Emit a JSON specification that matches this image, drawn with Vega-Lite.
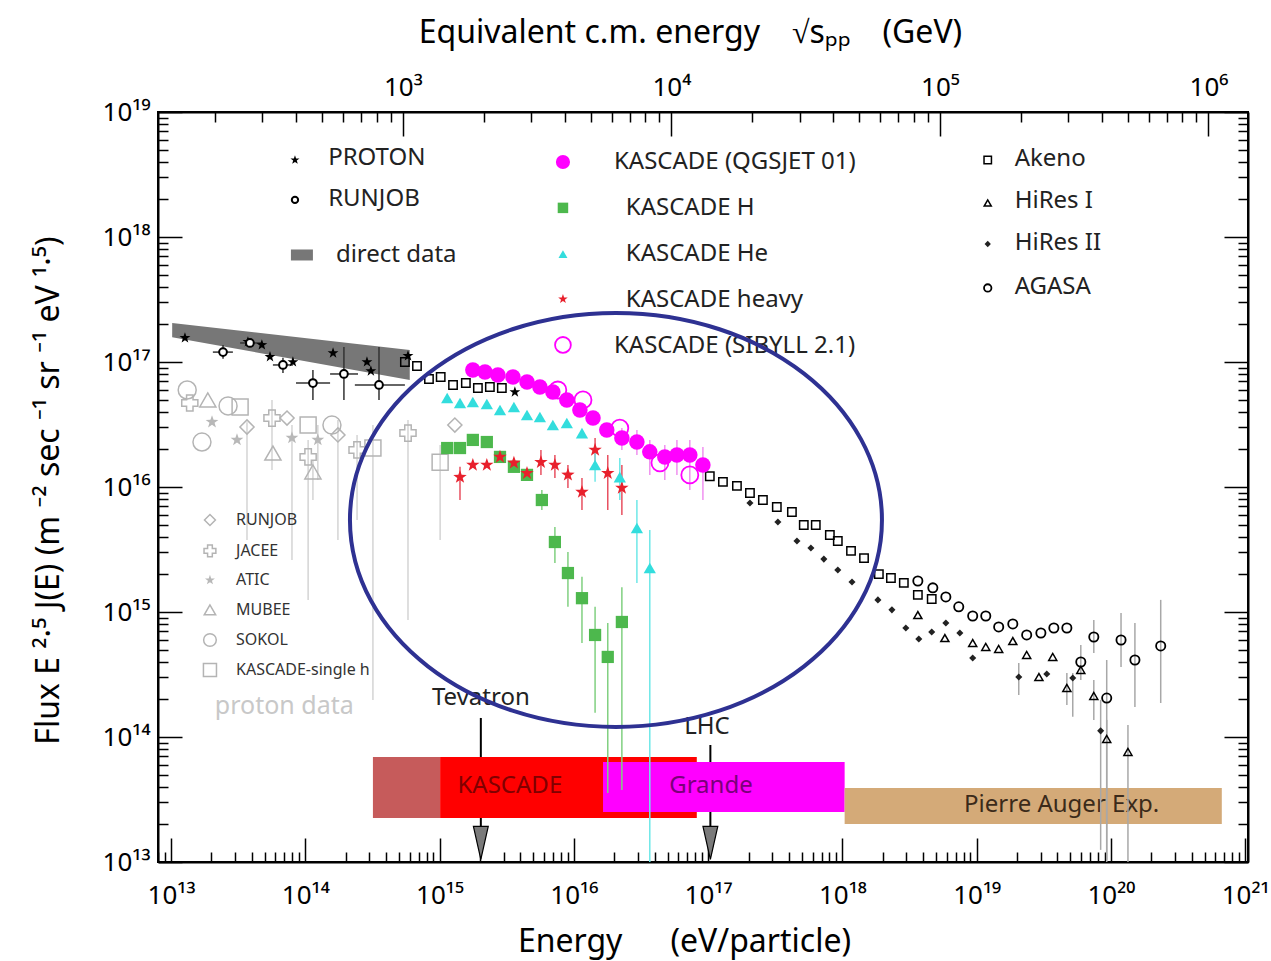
{
  "$schema": "https://vega.github.io/schema/vega-lite/v6.json",
  "width": 1090,
  "height": 750,
  "autosize": "none",
  "padding": {"left": 158, "top": 112, "right": 23, "bottom": 99},
  "background": "white",
  "config": {
    "font": "Noto Sans",
    "view": {"stroke": "black", "strokeWidth": 2},
    "axis": {"grid": false, "labelColor": "black", "titleColor": "black", "tickColor": "black", "domainColor": "black", "titleFontWeight": "normal", "domainWidth": 2, "tickWidth": 1.5}
  },
  "datasets": {
    "arrows": [
      {"name": "Tevatron", "E": 2.03e15, "Et": 2.03e15, "Ft": 2.05e14, "F1": 1.42e14, "F2": 1.87e13, "Fh": 1.42e13},
      {"name": "LHC", "E": 1.04e17, "Et": 9.8e16, "Ft": 1.2e14, "F1": 8.63e13, "F2": 1.87e13, "Fh": 1.42e13}
    ],
    "bands": [
      {"name": "pre", "E1": 3.19e14, "E2": 1.01e15, "F1": 2.25e13, "F2": 6.92e13},
      {"name": "KASCADE", "E1": 1.01e15, "E2": 8.24e16, "F1": 2.25e13, "F2": 6.92e13},
      {"name": "Grande", "E1": 1.65e16, "E2": 1.04e18, "F1": 2.51e13, "F2": 6.31e13},
      {"name": "Auger", "E1": 1.04e18, "E2": 6.7e20, "F1": 2.01e13, "F2": 3.91e13}
    ],
    "bandtext": [
      {"label": "KASCADE", "E": 3.34e15, "F": 4.06e13},
      {"label": "Grande", "E": 1.05e17, "F": 4.06e13},
      {"label": "Pierre Auger Exp.", "E": 4.3e19, "F": 2.86e13}
    ],
    "direct": [
      {"E": 1.02e13, "Flo": 1.58e17, "Fhi": 2.05e17},
      {"E": 6.0e14, "Flo": 7.18e16, "Fhi": 1.25e17}
    ],
    "focus": [{"E": 2.06e16, "F": 5.45e15}],
    "legtext": [
      {"label": "PROTON", "E": 1.48e14, "F": 4.29e18, "g": "big"},
      {"label": "RUNJOB", "E": 1.48e14, "F": 2.01e18, "g": "big"},
      {"label": "direct data", "E": 1.69e14, "F": 7.18e17, "g": "big"},
      {"label": "KASCADE (QGSJET 01)", "E": 1.99e16, "F": 3.98e18, "g": "big"},
      {"label": "KASCADE H", "E": 2.44e16, "F": 1.71e18, "g": "big"},
      {"label": "KASCADE He", "E": 2.44e16, "F": 7.31e17, "g": "big"},
      {"label": "KASCADE heavy", "E": 2.44e16, "F": 3.13e17, "g": "big"},
      {"label": "KASCADE (SIBYLL 2.1)", "E": 1.99e16, "F": 1.34e17, "g": "big"},
      {"label": "Akeno", "E": 1.92e19, "F": 4.21e18, "g": "big"},
      {"label": "HiRes I", "E": 1.92e19, "F": 1.94e18, "g": "big"},
      {"label": "HiRes II", "E": 1.92e19, "F": 8.95e17, "g": "big"},
      {"label": "AGASA", "E": 1.92e19, "F": 3.98e17, "g": "big"},
      {"label": "RUNJOB", "E": 3.05e13, "F": 5.45e15, "g": "small"},
      {"label": "JACEE", "E": 3.05e13, "F": 3.08e15, "g": "small"},
      {"label": "ATIC", "E": 3.05e13, "F": 1.8e15, "g": "small"},
      {"label": "MUBEE", "E": 3.05e13, "F": 1.04e15, "g": "small"},
      {"label": "SOKOL", "E": 3.05e13, "F": 5.97e14, "g": "small"},
      {"label": "KASCADE-single h", "E": 3.05e13, "F": 3.44e14, "g": "small"},
      {"label": "proton data", "E": 2.12e13, "F": 1.77e14, "g": "note"}
    ],
    "pts": [
      {"s": "sokol", "E": 1.32e13, "F": 5.97e16},
      {"s": "sokol", "E": 1.70e13, "F": 2.29e16},
      {"s": "sokol", "E": 2.66e13, "F": 4.45e16},
      {"s": "sokol", "E": 1.58e14, "F": 3.13e16},
      {"s": "mubee", "E": 1.88e13, "F": 4.97e16},
      {"s": "mubee", "E": 5.74e13, "F": 1.87e16},
      {"s": "mubee", "E": 1.14e14, "F": 1.32e16, "lo": 7.87e15, "hi": 1.64e16},
      {"s": "jacee", "E": 1.38e13, "F": 4.70e16},
      {"s": "jacee", "E": 5.65e13, "F": 3.56e16, "lo": 1.37e16, "hi": 4.97e16},
      {"s": "jacee", "E": 1.05e14, "F": 1.74e16, "lo": 1.25e15, "hi": 2.38e16},
      {"s": "jacee", "E": 2.43e14, "F": 1.98e16, "lo": 5.45e15, "hi": 2.61e16},
      {"s": "jacee", "E": 5.82e14, "F": 2.70e16, "lo": 8.63e14, "hi": 3.44e16},
      {"s": "atic", "E": 2.02e13, "F": 3.31e16},
      {"s": "atic", "E": 3.10e13, "F": 2.38e16},
      {"s": "atic", "E": 7.96e13, "F": 2.47e16, "lo": 2.61e15, "hi": 3.13e16},
      {"s": "atic", "E": 1.24e14, "F": 2.38e16, "lo": 1.14e16, "hi": 3.13e16},
      {"s": "runjobG", "E": 3.68e13, "F": 3.02e16, "lo": 3.77e15, "hi": 3.3e16},
      {"s": "runjobG", "E": 7.31e13, "F": 3.56e16},
      {"s": "runjobG", "E": 1.75e14, "F": 2.61e16, "lo": 3.77e15, "hi": 3.44e16},
      {"s": "runjobG", "E": 1.30e15, "F": 3.13e16},
      {"s": "ksingle", "E": 3.27e13, "F": 4.37e16},
      {"s": "ksingle", "E": 1.05e14, "F": 3.13e16},
      {"s": "ksingle", "E": 3.19e14, "F": 2.05e16, "lo": 1.98e14, "hi": 3.13e16},
      {"s": "ksingle", "E": 1.01e15, "F": 1.58e16, "lo": 3.77e15, "hi": 2.17e16},
      {"s": "runjobG", "E": 1.95e13, "F": 5.45e15, "leg": true},
      {"s": "jacee", "E": 1.95e13, "F": 3.08e15, "leg": true},
      {"s": "atic", "E": 1.95e13, "F": 1.8e15, "leg": true},
      {"s": "mubee", "E": 1.95e13, "F": 1.04e15, "leg": true},
      {"s": "sokol", "E": 1.95e13, "F": 5.97e14, "leg": true},
      {"s": "ksingle", "E": 1.95e13, "F": 3.44e14, "leg": true},

      {"s": "proton", "E": 1.27e13, "F": 1.56e17},
      {"s": "proton", "E": 3.74e13, "F": 1.45e17},
      {"s": "proton", "E": 4.75e13, "F": 1.37e17},
      {"s": "proton", "E": 5.46e13, "F": 1.10e17},
      {"s": "proton", "E": 8.09e13, "F": 1.0e17},
      {"s": "proton", "E": 1.61e14, "F": 1.18e17},
      {"s": "proton", "E": 2.88e14, "F": 1.0e17},
      {"s": "proton", "E": 3.08e14, "F": 8.47e16},
      {"s": "proton", "E": 5.82e14, "F": 1.12e17},
      {"s": "proton", "E": 3.64e15, "F": 5.75e16},
      {"s": "proton", "E": 8.38e13, "F": 4.13e18, "leg": true},
      {"s": "runjob", "E": 2.44e13, "F": 1.20e17, "lo": 1.06e17, "hi": 1.37e17, "Elo": 2.05e13, "Ehi": 2.89e13},
      {"s": "runjob", "E": 3.87e13, "F": 1.42e17, "Elo": 3.27e13, "Ehi": 4.75e13},
      {"s": "runjob", "E": 6.82e13, "F": 9.47e16, "lo": 8.17e16, "hi": 1.08e17, "Elo": 5.74e13, "Ehi": 8.09e13},
      {"s": "runjob", "E": 1.14e14, "F": 6.79e16, "lo": 4.97e16, "hi": 8.63e16, "Elo": 8.53e13, "Ehi": 1.53e14},
      {"s": "runjob", "E": 1.94e14, "F": 8.02e16, "lo": 4.97e16, "hi": 1.32e17, "Elo": 1.53e14, "Ehi": 2.47e14},
      {"s": "runjob", "E": 3.54e14, "F": 6.55e16, "lo": 4.97e16, "hi": 1.32e17, "Elo": 2.34e14, "Ehi": 5.52e14},
      {"s": "runjob", "E": 8.38e13, "F": 1.98e18, "leg": true},

      {"s": "akeno", "E": 5.52e14, "F": 1.0e17},
      {"s": "akeno", "E": 6.79e14, "F": 9.29e16},
      {"s": "akeno", "E": 8.34e14, "F": 7.31e16},
      {"s": "akeno", "E": 1.02e15, "F": 7.59e16},
      {"s": "akeno", "E": 1.26e15, "F": 6.55e16},
      {"s": "akeno", "E": 1.57e15, "F": 6.79e16},
      {"s": "akeno", "E": 1.93e15, "F": 6.19e16},
      {"s": "akeno", "E": 2.37e15, "F": 6.31e16},
      {"s": "akeno", "E": 2.91e15, "F": 6.19e16},
      {"s": "akeno", "E": 1.03e17, "F": 1.22e16},
      {"s": "akeno", "E": 1.29e17, "F": 1.10e16},
      {"s": "akeno", "E": 1.64e17, "F": 1.02e16},
      {"s": "akeno", "E": 2.05e17, "F": 8.95e15},
      {"s": "akeno", "E": 2.56e17, "F": 7.87e15},
      {"s": "akeno", "E": 3.25e17, "F": 6.92e15},
      {"s": "akeno", "E": 4.21e17, "F": 6.31e15},
      {"s": "akeno", "E": 5.16e17, "F": 4.97e15},
      {"s": "akeno", "E": 6.34e17, "F": 4.97e15},
      {"s": "akeno", "E": 8.07e17, "F": 4.13e15},
      {"s": "akeno", "E": 9.25e17, "F": 3.70e15},
      {"s": "akeno", "E": 1.16e18, "F": 3.08e15},
      {"s": "akeno", "E": 1.45e18, "F": 2.70e15},
      {"s": "akeno", "E": 1.87e18, "F": 2.01e15},
      {"s": "akeno", "E": 2.30e18, "F": 1.87e15},
      {"s": "akeno", "E": 2.87e18, "F": 1.71e15},
      {"s": "akeno", "E": 3.65e18, "F": 1.37e15},
      {"s": "akeno", "E": 4.63e18, "F": 1.27e15},
      {"s": "akeno", "E": 1.21e19, "F": 4.13e18, "leg": true},

      {"s": "hires1", "E": 3.65e18, "F": 9.46e14},
      {"s": "hires1", "E": 5.80e18, "F": 6.19e14},
      {"s": "hires1", "E": 9.35e18, "F": 5.65e14},
      {"s": "hires1", "E": 1.17e19, "F": 5.25e14},
      {"s": "hires1", "E": 1.46e19, "F": 5.06e14},
      {"s": "hires1", "E": 1.86e19, "F": 5.86e14},
      {"s": "hires1", "E": 2.36e19, "F": 4.53e14},
      {"s": "hires1", "E": 2.91e19, "F": 3.02e14},
      {"s": "hires1", "E": 3.69e19, "F": 4.37e14},
      {"s": "hires1", "E": 4.70e19, "F": 2.47e14, "lo": 1.80e14, "hi": 3.25e14},
      {"s": "hires1", "E": 5.97e19, "F": 3.44e14},
      {"s": "hires1", "E": 7.46e19, "F": 2.13e14, "lo": 1.37e14, "hi": 2.86e14},
      {"s": "hires1", "E": 9.31e19, "F": 9.64e13, "lo": 1.0e13, "hi": 1.37e14},
      {"s": "hires1", "E": 1.34e20, "F": 7.59e13, "lo": 1.0e13, "hi": 1.25e14},
      {"s": "hires1", "E": 1.21e19, "F": 1.87e18, "leg": true},

      {"s": "hires2", "E": 2.05e17, "F": 7.45e15},
      {"s": "hires2", "E": 3.31e17, "F": 5.25e15},
      {"s": "hires2", "E": 4.59e17, "F": 3.70e15},
      {"s": "hires2", "E": 5.83e17, "F": 3.25e15},
      {"s": "hires2", "E": 7.28e17, "F": 2.65e15},
      {"s": "hires2", "E": 9.25e17, "F": 2.17e15},
      {"s": "hires2", "E": 1.18e18, "F": 1.74e15},
      {"s": "hires2", "E": 1.84e18, "F": 1.25e15},
      {"s": "hires2", "E": 2.34e18, "F": 1.04e15},
      {"s": "hires2", "E": 2.97e18, "F": 7.45e14},
      {"s": "hires2", "E": 3.71e18, "F": 6.08e14},
      {"s": "hires2", "E": 4.63e18, "F": 6.92e14},
      {"s": "hires2", "E": 5.90e18, "F": 8.17e14},
      {"s": "hires2", "E": 7.50e18, "F": 6.79e14},
      {"s": "hires2", "E": 9.35e18, "F": 4.29e14},
      {"s": "hires2", "E": 2.06e19, "F": 3.02e14, "lo": 2.17e14, "hi": 3.91e14},
      {"s": "hires2", "E": 3.33e19, "F": 3.19e14},
      {"s": "hires2", "E": 5.20e19, "F": 2.96e14, "lo": 1.45e14, "hi": 3.25e14},
      {"s": "hires2", "E": 8.39e19, "F": 1.12e14, "lo": 1.25e13, "hi": 1.98e14},
      {"s": "hires2", "E": 1.21e19, "F": 8.79e17, "leg": true},

      {"s": "agasa", "E": 3.65e18, "F": 1.77e15},
      {"s": "agasa", "E": 4.72e18, "F": 1.56e15},
      {"s": "agasa", "E": 5.90e18, "F": 1.32e15},
      {"s": "agasa", "E": 7.36e18, "F": 1.10e15},
      {"s": "agasa", "E": 9.35e18, "F": 9.29e14},
      {"s": "agasa", "E": 1.17e19, "F": 9.29e14},
      {"s": "agasa", "E": 1.46e19, "F": 7.59e14},
      {"s": "agasa", "E": 1.86e19, "F": 8.02e14},
      {"s": "agasa", "E": 2.36e19, "F": 6.55e14},
      {"s": "agasa", "E": 3.01e19, "F": 6.79e14},
      {"s": "agasa", "E": 3.76e19, "F": 7.45e14},
      {"s": "agasa", "E": 4.70e19, "F": 7.45e14},
      {"s": "agasa", "E": 5.97e19, "F": 3.98e14, "lo": 2.86e14, "hi": 5.45e14},
      {"s": "agasa", "E": 7.46e19, "F": 6.31e14, "lo": 4.70e14, "hi": 8.63e14},
      {"s": "agasa", "E": 9.31e19, "F": 2.05e14, "lo": 1.04e13, "hi": 4.13e14},
      {"s": "agasa", "E": 1.19e20, "F": 5.97e14, "lo": 3.63e14, "hi": 9.82e14},
      {"s": "agasa", "E": 1.51e20, "F": 4.13e14, "lo": 1.74e14, "hi": 8.17e14},
      {"s": "agasa", "E": 2.35e20, "F": 5.35e14, "lo": 1.87e14, "hi": 1.25e15},
      {"s": "agasa", "E": 1.21e19, "F": 3.91e17, "leg": true},

      {"s": "H", "E": 1.14e15, "F": 2.05e16},
      {"s": "H", "E": 1.42e15, "F": 2.05e16},
      {"s": "H", "E": 1.77e15, "F": 2.38e16},
      {"s": "H", "E": 2.25e15, "F": 2.29e16},
      {"s": "H", "E": 2.82e15, "F": 1.74e16},
      {"s": "H", "E": 3.58e15, "F": 1.45e16},
      {"s": "H", "E": 4.48e15, "F": 1.25e16},
      {"s": "H", "E": 5.78e15, "F": 7.87e15, "lo": 6.55e15, "hi": 9.46e15},
      {"s": "H", "E": 7.23e15, "F": 3.63e15, "lo": 2.47e15, "hi": 4.79e15},
      {"s": "H", "E": 9.04e15, "F": 2.05e15, "lo": 1.10e15, "hi": 3.02e15},
      {"s": "H", "E": 1.15e16, "F": 1.29e15, "lo": 5.65e14, "hi": 1.91e15},
      {"s": "H", "E": 1.44e16, "F": 6.55e14, "lo": 1.56e14, "hi": 1.10e15},
      {"s": "H", "E": 1.79e16, "F": 4.37e14, "lo": 3.56e13, "hi": 8.17e14},
      {"s": "H", "E": 2.28e16, "F": 8.32e14, "lo": 3.77e13, "hi": 1.58e15},
      {"s": "H", "E": 8.30e15, "F": 1.71e18, "leg": true},

      {"s": "heavy", "E": 1.42e15, "F": 1.20e16, "lo": 7.87e15, "hi": 1.45e16},
      {"s": "heavy", "E": 1.77e15, "F": 1.50e16},
      {"s": "heavy", "E": 2.25e15, "F": 1.50e16},
      {"s": "heavy", "E": 2.82e15, "F": 1.74e16},
      {"s": "heavy", "E": 3.58e15, "F": 1.56e16},
      {"s": "heavy", "E": 4.48e15, "F": 1.29e16},
      {"s": "heavy", "E": 5.69e15, "F": 1.58e16, "lo": 1.25e16, "hi": 1.98e16},
      {"s": "heavy", "E": 7.23e15, "F": 1.50e16, "lo": 1.18e16, "hi": 1.80e16},
      {"s": "heavy", "E": 9.04e15, "F": 1.25e16, "lo": 9.82e15, "hi": 1.50e16},
      {"s": "heavy", "E": 1.15e16, "F": 9.12e15, "lo": 6.55e15, "hi": 1.18e16},
      {"s": "heavy", "E": 1.44e16, "F": 1.98e16, "lo": 1.37e16, "hi": 2.47e16},
      {"s": "heavy", "E": 1.79e16, "F": 1.29e16, "lo": 6.55e15, "hi": 1.80e16},
      {"s": "heavy", "E": 2.28e16, "F": 9.82e15, "lo": 5.97e15, "hi": 1.50e16},
      {"s": "heavy", "E": 8.30e15, "F": 3.19e17, "leg": true},

      {"s": "He", "E": 1.14e15, "F": 5.15e16},
      {"s": "He", "E": 1.42e15, "F": 4.70e16},
      {"s": "He", "E": 1.77e15, "F": 4.79e16},
      {"s": "He", "E": 2.25e15, "F": 4.61e16},
      {"s": "He", "E": 2.82e15, "F": 4.13e16},
      {"s": "He", "E": 3.58e15, "F": 4.37e16},
      {"s": "He", "E": 4.48e15, "F": 3.77e16},
      {"s": "He", "E": 5.59e15, "F": 3.63e16},
      {"s": "He", "E": 6.98e15, "F": 3.13e16},
      {"s": "He", "E": 8.87e15, "F": 3.25e16},
      {"s": "He", "E": 1.15e16, "F": 2.70e16},
      {"s": "He", "E": 1.44e16, "F": 1.50e16, "lo": 1.10e16, "hi": 1.98e16},
      {"s": "He", "E": 2.20e16, "F": 1.20e16, "lo": 7.87e15, "hi": 1.71e16},
      {"s": "He", "E": 2.95e16, "F": 4.70e15, "lo": 1.71e15, "hi": 7.87e15},
      {"s": "He", "E": 3.68e16, "F": 2.25e15, "lo": 1.0e13, "hi": 4.53e15},
      {"s": "He", "E": 8.30e15, "F": 7.31e17, "leg": true},

      {"s": "qgsjet", "E": 1.77e15, "F": 8.63e16},
      {"s": "qgsjet", "E": 2.18e15, "F": 8.32e16},
      {"s": "qgsjet", "E": 2.72e15, "F": 7.87e16},
      {"s": "qgsjet", "E": 3.52e15, "F": 7.59e16},
      {"s": "qgsjet", "E": 4.48e15, "F": 6.92e16},
      {"s": "qgsjet", "E": 5.59e15, "F": 6.31e16},
      {"s": "qgsjet", "E": 6.98e15, "F": 5.75e16},
      {"s": "qgsjet", "E": 8.87e15, "F": 4.97e16},
      {"s": "qgsjet", "E": 1.11e16, "F": 4.13e16},
      {"s": "qgsjet", "E": 1.39e16, "F": 3.56e16},
      {"s": "qgsjet", "E": 1.76e16, "F": 2.86e16},
      {"s": "qgsjet", "E": 2.28e16, "F": 2.47e16, "lo": 1.98e16, "hi": 2.96e16},
      {"s": "qgsjet", "E": 2.95e16, "F": 2.29e16, "lo": 1.80e16, "hi": 2.86e16},
      {"s": "qgsjet", "E": 3.68e16, "F": 1.91e16, "lo": 1.25e16, "hi": 2.38e16},
      {"s": "qgsjet", "E": 4.76e16, "F": 1.74e16, "lo": 1.14e16, "hi": 2.17e16},
      {"s": "qgsjet", "E": 5.86e16, "F": 1.80e16, "lo": 1.25e16, "hi": 2.38e16},
      {"s": "qgsjet", "E": 7.31e16, "F": 1.80e16, "lo": 9.46e15, "hi": 2.38e16},
      {"s": "qgsjet", "E": 9.15e16, "F": 1.50e16, "lo": 7.87e15, "hi": 2.09e16},
      {"s": "qgsjet", "E": 8.30e15, "F": 3.98e18, "leg": true},

      {"s": "sibyll", "E": 7.60e15, "F": 5.97e16},
      {"s": "sibyll", "E": 1.17e16, "F": 4.97e16},
      {"s": "sibyll", "E": 2.20e16, "F": 2.96e16},
      {"s": "sibyll", "E": 4.38e16, "F": 1.56e16},
      {"s": "sibyll", "E": 7.31e16, "F": 1.25e16},
      {"s": "sibyll", "E": 8.30e15, "F": 1.37e17, "leg": true},

      {"s": "direct", "E": 9.44e13, "F": 7.18e17, "leg": true}
    ]
  },
  "layer": [
    {
      "layer": [
        {
          "data": {"name": "arrows"},
          "mark": {"type": "rule", "color": "black", "strokeWidth": 2},
          "encoding": {
            "x": {
              "field": "E", "type": "quantitative",
              "scale": {"type": "log", "domain": [8e12, 1.05e21], "nice": false},
              "axis": {
                "orient": "bottom",
                "values": [8e12, 9e12, 1e13, 2e13, 3e13, 4e13, 5e13, 6e13, 7e13, 8e13, 9e13, 1e14, 2e14, 3e14, 4e14, 5e14, 6e14, 7e14, 8e14, 9e14, 1e15, 2e15, 3e15, 4e15, 5e15, 6e15, 7e15, 8e15, 9e15, 1e16, 2e16, 3e16, 4e16, 5e16, 6e16, 7e16, 8e16, 9e16, 1e17, 2e17, 3e17, 4e17, 5e17, 6e17, 7e17, 8e17, 9e17, 1e18, 2e18, 3e18, 4e18, 5e18, 6e18, 7e18, 8e18, 9e18, 1e19, 2e19, 3e19, 4e19, 5e19, 6e19, 7e19, 8e19, 9e19, 1e20, 2e20, 3e20, 4e20, 5e20, 6e20, 7e20, 8e20, 9e20, 1e21],
                "labelExpr": "abs(log(datum.value)/LN10 - round(log(datum.value)/LN10)) < 0.001 ? '10' + (round(log(datum.value)/LN10) >= 10 ? ['⁰','¹','²','³','⁴','⁵','⁶','⁷','⁸','⁹'][floor(round(log(datum.value)/LN10)/10)] : '') + ['⁰','¹','²','³','⁴','⁵','⁶','⁷','⁸','⁹'][round(log(datum.value)/LN10) % 10] : ''",
                "labelFontSize": 26,
                "labelPadding": 44,
                "labelFlush": false,
                "labelOverlap": false,
                "tickSize": {"condition": {"test": "abs(log(datum.value)/LN10 - round(log(datum.value)/LN10)) < 0.001", "value": -24}, "value": -10},
                "title": "Energy\u2003\u2002(eV/particle)",
                "titleFontSize": 32,
                "titleX": 526,
                "titleY": 89,
                "titleAlign": "center",
                "titleBaseline": "alphabetic"
              }
            },
            "y": {
              "field": "F1", "type": "quantitative",
              "scale": {"type": "log", "domain": [1e13, 1e19], "nice": false},
              "axis": {
                "orient": "left",
                "values": [1e13, 2e13, 3e13, 4e13, 5e13, 6e13, 7e13, 8e13, 9e13, 1e14, 2e14, 3e14, 4e14, 5e14, 6e14, 7e14, 8e14, 9e14, 1e15, 2e15, 3e15, 4e15, 5e15, 6e15, 7e15, 8e15, 9e15, 1e16, 2e16, 3e16, 4e16, 5e16, 6e16, 7e16, 8e16, 9e16, 1e17, 2e17, 3e17, 4e17, 5e17, 6e17, 7e17, 8e17, 9e17, 1e18, 2e18, 3e18, 4e18, 5e18, 6e18, 7e18, 8e18, 9e18, 1e19],
                "labelExpr": "abs(log(datum.value)/LN10 - round(log(datum.value)/LN10)) < 0.001 ? '10' + (round(log(datum.value)/LN10) >= 10 ? ['⁰','¹','²','³','⁴','⁵','⁶','⁷','⁸','⁹'][floor(round(log(datum.value)/LN10)/10)] : '') + ['⁰','¹','²','³','⁴','⁵','⁶','⁷','⁸','⁹'][round(log(datum.value)/LN10) % 10] : ''",
                "labelFontSize": 26,
                "labelPadding": 32,
                "labelFlush": false,
                "labelOverlap": false,
                "tickSize": {"condition": {"test": "abs(log(datum.value)/LN10 - round(log(datum.value)/LN10)) < 0.001", "value": -24}, "value": -10},
                "title": "Flux E ²·⁵ J(E) (m ⁻² sec ⁻¹ sr ⁻¹ eV ¹·⁵)",
                "titleFontSize": 32,
                "titleAngle": 270,
                "titleX": -100,
                "titleY": 378,
                "titleAlign": "center",
                "titleBaseline": "alphabetic"
              }
            },
            "y2": {"field": "F2"}
          }
        },
        {
          "data": {"name": "arrows"},
          "mark": {"type": "point", "shape": "M-0.45,-1L0.45,-1L0,1Z", "size": 1089, "filled": true, "fill": "#7a7a7a", "stroke": "black", "strokeWidth": 1.2, "opacity": 1},
          "encoding": {"x": {"field": "E", "type": "quantitative"}, "y": {"field": "Fh", "type": "quantitative"}}
        },
        {
          "data": {"name": "bands"},
          "mark": {"type": "rect", "opacity": 1},
          "encoding": {
            "x": {"field": "E1", "type": "quantitative"},
            "x2": {"field": "E2"},
            "y": {"field": "F1", "type": "quantitative"},
            "y2": {"field": "F2"},
            "color": {"condition": [
              {"test": "datum.name === 'pre'", "value": "#c65b5b"},
              {"test": "datum.name === 'KASCADE'", "value": "#ff0000"},
              {"test": "datum.name === 'Grande'", "value": "#ff00ff"}
            ], "value": "#d4aa78"}
          }
        },
        {
          "data": {"name": "bandtext"},
          "mark": {"type": "text", "fontSize": 24, "align": "center", "baseline": "middle"},
          "encoding": {
            "x": {"field": "E", "type": "quantitative"},
            "y": {"field": "F", "type": "quantitative"},
            "text": {"field": "label"},
            "color": {"condition": [
              {"test": "datum.label === 'KASCADE'", "value": "#800000"},
              {"test": "datum.label === 'Grande'", "value": "#7a007a"}
            ], "value": "#3b2a1a"}
          }
        },
        {
          "data": {"name": "arrows"},
          "mark": {"type": "text", "fontSize": 24, "align": "center", "baseline": "middle", "color": "#222222"},
          "encoding": {
            "x": {"field": "Et", "type": "quantitative"},
            "y": {"field": "Ft", "type": "quantitative"},
            "text": {"field": "name"}
          }
        },
        {
          "data": {"name": "direct"},
          "mark": {"type": "area", "color": "#777777", "opacity": 1},
          "encoding": {
            "x": {"field": "E", "type": "quantitative"},
            "y": {"field": "Flo", "type": "quantitative"},
            "y2": {"field": "Fhi"}
          }
        },
        {
          "data": {"name": "pts"},
          "transform": [{"filter": "isValid(datum.lo)"}],
          "mark": {"type": "rule", "strokeWidth": 1.5},
          "encoding": {
            "x": {"field": "E", "type": "quantitative"},
            "y": {"field": "lo", "type": "quantitative"},
            "y2": {"field": "hi"},
            "color": {"condition": [
              {"test": "datum.s === 'H'", "value": "#80d080"},
              {"test": "datum.s === 'He'", "value": "#6ee8e8"},
              {"test": "datum.s === 'heavy'", "value": "#e85060"},
              {"test": "datum.s === 'qgsjet'", "value": "#f090f0"},
              {"test": "datum.s === 'runjob'", "value": "#333333"},
              {"test": "indexof(['akeno','hires1','hires2','agasa'], datum.s) >= 0", "value": "#a8a8a8"}
            ], "value": "#d4d4d4"}
          }
        },
        {
          "data": {"name": "pts"},
          "transform": [{"filter": "isValid(datum.Elo)"}],
          "mark": {"type": "rule", "strokeWidth": 1.5, "color": "#333333"},
          "encoding": {
            "x": {"field": "Elo", "type": "quantitative"},
            "x2": {"field": "Ehi"},
            "y": {"field": "F", "type": "quantitative"}
          }
        },
        {
          "data": {"name": "pts"},
          "transform": [{"filter": "datum.s === 'sokol'"}],
          "mark": {"type": "point", "shape": "circle", "filled": false, "color": "#b4b4b4", "strokeWidth": 1.5, "opacity": 1},
          "encoding": {"x": {"field": "E", "type": "quantitative"}, "y": {"field": "F", "type": "quantitative"}, "size": {"condition": {"test": "datum.leg", "value": 160}, "value": 324}}
        },
        {
          "data": {"name": "pts"},
          "transform": [{"filter": "datum.s === 'mubee'"}],
          "mark": {"type": "point", "shape": "triangle-up", "filled": false, "color": "#b4b4b4", "strokeWidth": 1.5, "opacity": 1},
          "encoding": {"x": {"field": "E", "type": "quantitative"}, "y": {"field": "F", "type": "quantitative"}, "size": {"condition": {"test": "datum.leg", "value": 130}, "value": 260}}
        },
        {
          "data": {"name": "pts"},
          "transform": [{"filter": "datum.s === 'jacee'"}],
          "mark": {"type": "point", "shape": "cross", "filled": false, "color": "#b4b4b4", "strokeWidth": 1.5, "opacity": 1},
          "encoding": {"x": {"field": "E", "type": "quantitative"}, "y": {"field": "F", "type": "quantitative"}, "size": {"condition": {"test": "datum.leg", "value": 140}, "value": 260}}
        },
        {
          "data": {"name": "pts"},
          "transform": [{"filter": "datum.s === 'atic'"}],
          "mark": {"type": "point", "shape": "M0,-1L0.235,-0.324L0.951,-0.309L0.38,0.124L0.588,0.809L0,0.4L-0.588,0.809L-0.38,0.124L-0.951,-0.309L-0.235,-0.324Z", "filled": true, "color": "#b8b8b8", "opacity": 1},
          "encoding": {"x": {"field": "E", "type": "quantitative"}, "y": {"field": "F", "type": "quantitative"}, "size": {"condition": {"test": "datum.leg", "value": 110}, "value": 180}}
        },
        {
          "data": {"name": "pts"},
          "transform": [{"filter": "datum.s === 'runjobG'"}],
          "mark": {"type": "point", "shape": "diamond", "filled": false, "color": "#b4b4b4", "strokeWidth": 1.5, "opacity": 1},
          "encoding": {"x": {"field": "E", "type": "quantitative"}, "y": {"field": "F", "type": "quantitative"}, "size": {"condition": {"test": "datum.leg", "value": 120}, "value": 200}}
        },
        {
          "data": {"name": "pts"},
          "transform": [{"filter": "datum.s === 'ksingle'"}],
          "mark": {"type": "point", "shape": "square", "filled": false, "color": "#b4b4b4", "strokeWidth": 1.5, "opacity": 1},
          "encoding": {"x": {"field": "E", "type": "quantitative"}, "y": {"field": "F", "type": "quantitative"}, "size": {"condition": {"test": "datum.leg", "value": 170}, "value": 256}}
        },
        {
          "data": {"name": "pts"},
          "transform": [{"filter": "datum.s === 'direct'"}],
          "mark": {"type": "point", "shape": "M-1,-0.5L1,-0.5L1,0.5L-1,0.5Z", "filled": true, "color": "#777777", "size": 484, "opacity": 1},
          "encoding": {"x": {"field": "E", "type": "quantitative"}, "y": {"field": "F", "type": "quantitative"}}
        },
        {
          "data": {"name": "pts"},
          "transform": [{"filter": "datum.s === 'proton'"}],
          "mark": {"type": "point", "shape": "M0,-1L0.235,-0.324L0.951,-0.309L0.38,0.124L0.588,0.809L0,0.4L-0.588,0.809L-0.38,0.124L-0.951,-0.309L-0.235,-0.324Z", "filled": true, "color": "black", "opacity": 1},
          "encoding": {"x": {"field": "E", "type": "quantitative"}, "y": {"field": "F", "type": "quantitative"}, "size": {"condition": {"test": "datum.leg", "value": 90}, "value": 130}}
        },
        {
          "data": {"name": "pts"},
          "transform": [{"filter": "datum.s === 'runjob'"}],
          "mark": {"type": "point", "shape": "circle", "filled": false, "fill": "white", "stroke": "black", "strokeWidth": 2, "opacity": 1},
          "encoding": {"x": {"field": "E", "type": "quantitative"}, "y": {"field": "F", "type": "quantitative"}, "size": {"condition": {"test": "datum.leg", "value": 40}, "value": 60}}
        },
        {
          "data": {"name": "pts"},
          "transform": [{"filter": "datum.s === 'akeno'"}],
          "mark": {"type": "point", "shape": "square", "filled": false, "color": "black", "strokeWidth": 1.5, "opacity": 1},
          "encoding": {"x": {"field": "E", "type": "quantitative"}, "y": {"field": "F", "type": "quantitative"}, "size": {"condition": {"test": "datum.leg", "value": 55}, "value": 70}}
        },
        {
          "data": {"name": "pts"},
          "transform": [{"filter": "datum.s === 'hires1'"}],
          "mark": {"type": "point", "shape": "triangle-up", "filled": false, "color": "black", "strokeWidth": 1.5, "opacity": 1},
          "encoding": {"x": {"field": "E", "type": "quantitative"}, "y": {"field": "F", "type": "quantitative"}, "size": {"condition": {"test": "datum.leg", "value": 50}, "value": 65}}
        },
        {
          "data": {"name": "pts"},
          "transform": [{"filter": "datum.s === 'hires2'"}],
          "mark": {"type": "point", "shape": "diamond", "filled": true, "color": "#222222", "opacity": 1},
          "encoding": {"x": {"field": "E", "type": "quantitative"}, "y": {"field": "F", "type": "quantitative"}, "size": {"condition": {"test": "datum.leg", "value": 40}, "value": 50}}
        },
        {
          "data": {"name": "pts"},
          "transform": [{"filter": "datum.s === 'agasa'"}],
          "mark": {"type": "point", "shape": "circle", "filled": false, "color": "black", "strokeWidth": 1.8, "opacity": 1},
          "encoding": {"x": {"field": "E", "type": "quantitative"}, "y": {"field": "F", "type": "quantitative"}, "size": {"condition": {"test": "datum.leg", "value": 55}, "value": 85}}
        },
        {
          "data": {"name": "pts"},
          "transform": [{"filter": "datum.s === 'H'"}],
          "mark": {"type": "point", "shape": "square", "filled": true, "color": "#4db84d", "opacity": 1},
          "encoding": {"x": {"field": "E", "type": "quantitative"}, "y": {"field": "F", "type": "quantitative"}, "size": {"condition": {"test": "datum.leg", "value": 110}, "value": 150}}
        },
        {
          "data": {"name": "pts"},
          "transform": [{"filter": "datum.s === 'heavy'"}],
          "mark": {"type": "point", "shape": "M0,-1L0.235,-0.324L0.951,-0.309L0.38,0.124L0.588,0.809L0,0.4L-0.588,0.809L-0.38,0.124L-0.951,-0.309L-0.235,-0.324Z", "filled": true, "color": "#e8202c", "opacity": 1},
          "encoding": {"x": {"field": "E", "type": "quantitative"}, "y": {"field": "F", "type": "quantitative"}, "size": {"condition": {"test": "datum.leg", "value": 100}, "value": 200}}
        },
        {
          "data": {"name": "pts"},
          "transform": [{"filter": "datum.s === 'He'"}],
          "mark": {"type": "point", "shape": "triangle-up", "filled": true, "color": "#33dddd", "opacity": 1},
          "encoding": {"x": {"field": "E", "type": "quantitative"}, "y": {"field": "F", "type": "quantitative"}, "size": {"condition": {"test": "datum.leg", "value": 80}, "value": 150}}
        },
        {
          "data": {"name": "pts"},
          "transform": [{"filter": "datum.s === 'qgsjet'"}],
          "mark": {"type": "point", "shape": "circle", "filled": true, "color": "#ff00ff", "opacity": 1},
          "encoding": {"x": {"field": "E", "type": "quantitative"}, "y": {"field": "F", "type": "quantitative"}, "size": {"condition": {"test": "datum.leg", "value": 200}, "value": 240}}
        },
        {
          "data": {"name": "pts"},
          "transform": [{"filter": "datum.s === 'sibyll'"}],
          "mark": {"type": "point", "shape": "circle", "filled": false, "color": "#ff00ff", "strokeWidth": 1.8, "opacity": 1},
          "encoding": {"x": {"field": "E", "type": "quantitative"}, "y": {"field": "F", "type": "quantitative"}, "size": {"condition": {"test": "datum.leg", "value": 250}, "value": 290}}
        },
        {
          "data": {"name": "legtext"},
          "mark": {"type": "text", "align": "left", "baseline": "middle"},
          "encoding": {
            "x": {"field": "E", "type": "quantitative"},
            "y": {"field": "F", "type": "quantitative"},
            "text": {"field": "label"},
            "size": {"condition": [
              {"test": "datum.g === 'small'", "value": 16},
              {"test": "datum.g === 'note'", "value": 25}
            ], "value": 24},
            "color": {"condition": [
              {"test": "datum.g === 'small'", "value": "#333333"},
              {"test": "datum.g === 'note'", "value": "#c8c8c8"}
            ], "value": "#222222"}
          }
        },
        {
          "data": {"name": "focus"},
          "mark": {"type": "point", "shape": "M-1,0C-1,-0.43,-0.552,-0.778,0,-0.778C0.552,-0.778,1,-0.43,1,0C1,0.43,0.552,0.778,0,0.778C-0.552,0.778,-1,0.43,-1,0Z", "size": 283024, "filled": false, "stroke": "#2e3192", "strokeWidth": 4, "opacity": 1},
          "encoding": {"x": {"field": "E", "type": "quantitative"}, "y": {"field": "F", "type": "quantitative"}}
        }
      ]
    },
    {
      "data": {"values": [{"s": 1000}, {"s": 10000}, {"s": 100000}, {"s": 1000000}]},
      "mark": {"type": "point", "opacity": 0},
      "encoding": {
        "x": {
          "field": "s", "type": "quantitative",
          "scale": {"type": "log", "domain": [122.5, 1403500], "nice": false},
          "axis": {
            "orient": "top",
            "values": [200, 300, 400, 500, 600, 700, 800, 900, 1000, 2000, 3000, 4000, 5000, 6000, 7000, 8000, 9000, 10000, 20000, 30000, 40000, 50000, 60000, 70000, 80000, 90000, 100000, 200000, 300000, 400000, 500000, 600000, 700000, 800000, 900000, 1000000],
            "labelExpr": "abs(log(datum.value)/LN10 - round(log(datum.value)/LN10)) < 0.001 ? '10' + (round(log(datum.value)/LN10) >= 10 ? ['⁰','¹','²','³','⁴','⁵','⁶','⁷','⁸','⁹'][floor(round(log(datum.value)/LN10)/10)] : '') + ['⁰','¹','²','³','⁴','⁵','⁶','⁷','⁸','⁹'][round(log(datum.value)/LN10) % 10] : ''",
            "labelFontSize": 26,
            "labelPadding": 36,
            "labelFlush": false,
            "labelOverlap": false,
            "tickSize": {"condition": {"test": "abs(log(datum.value)/LN10 - round(log(datum.value)/LN10)) < 0.001", "value": -24}, "value": -10},
            "title": "Equivalent c.m. energy\u2003√sₚₚ\u2003(GeV)",
            "titleFontSize": 32,
            "titleX": 532,
            "titleY": -70,
            "titleAlign": "center",
            "titleBaseline": "alphabetic"
          }
        },
        "y": {
          "datum": 1e16, "type": "quantitative",
          "axis": {
            "orient": "right",
            "values": [1e13, 2e13, 3e13, 4e13, 5e13, 6e13, 7e13, 8e13, 9e13, 1e14, 2e14, 3e14, 4e14, 5e14, 6e14, 7e14, 8e14, 9e14, 1e15, 2e15, 3e15, 4e15, 5e15, 6e15, 7e15, 8e15, 9e15, 1e16, 2e16, 3e16, 4e16, 5e16, 6e16, 7e16, 8e16, 9e16, 1e17, 2e17, 3e17, 4e17, 5e17, 6e17, 7e17, 8e17, 9e17, 1e18, 2e18, 3e18, 4e18, 5e18, 6e18, 7e18, 8e18, 9e18, 1e19],
            "labels": false,
            "tickSize": {"condition": {"test": "abs(log(datum.value)/LN10 - round(log(datum.value)/LN10)) < 0.001", "value": -24}, "value": -10},
            "title": null
          }
        }
      }
    }
  ],
  "resolve": {"scale": {"x": "independent"}, "axis": {"x": "independent", "y": "independent"}}
}
